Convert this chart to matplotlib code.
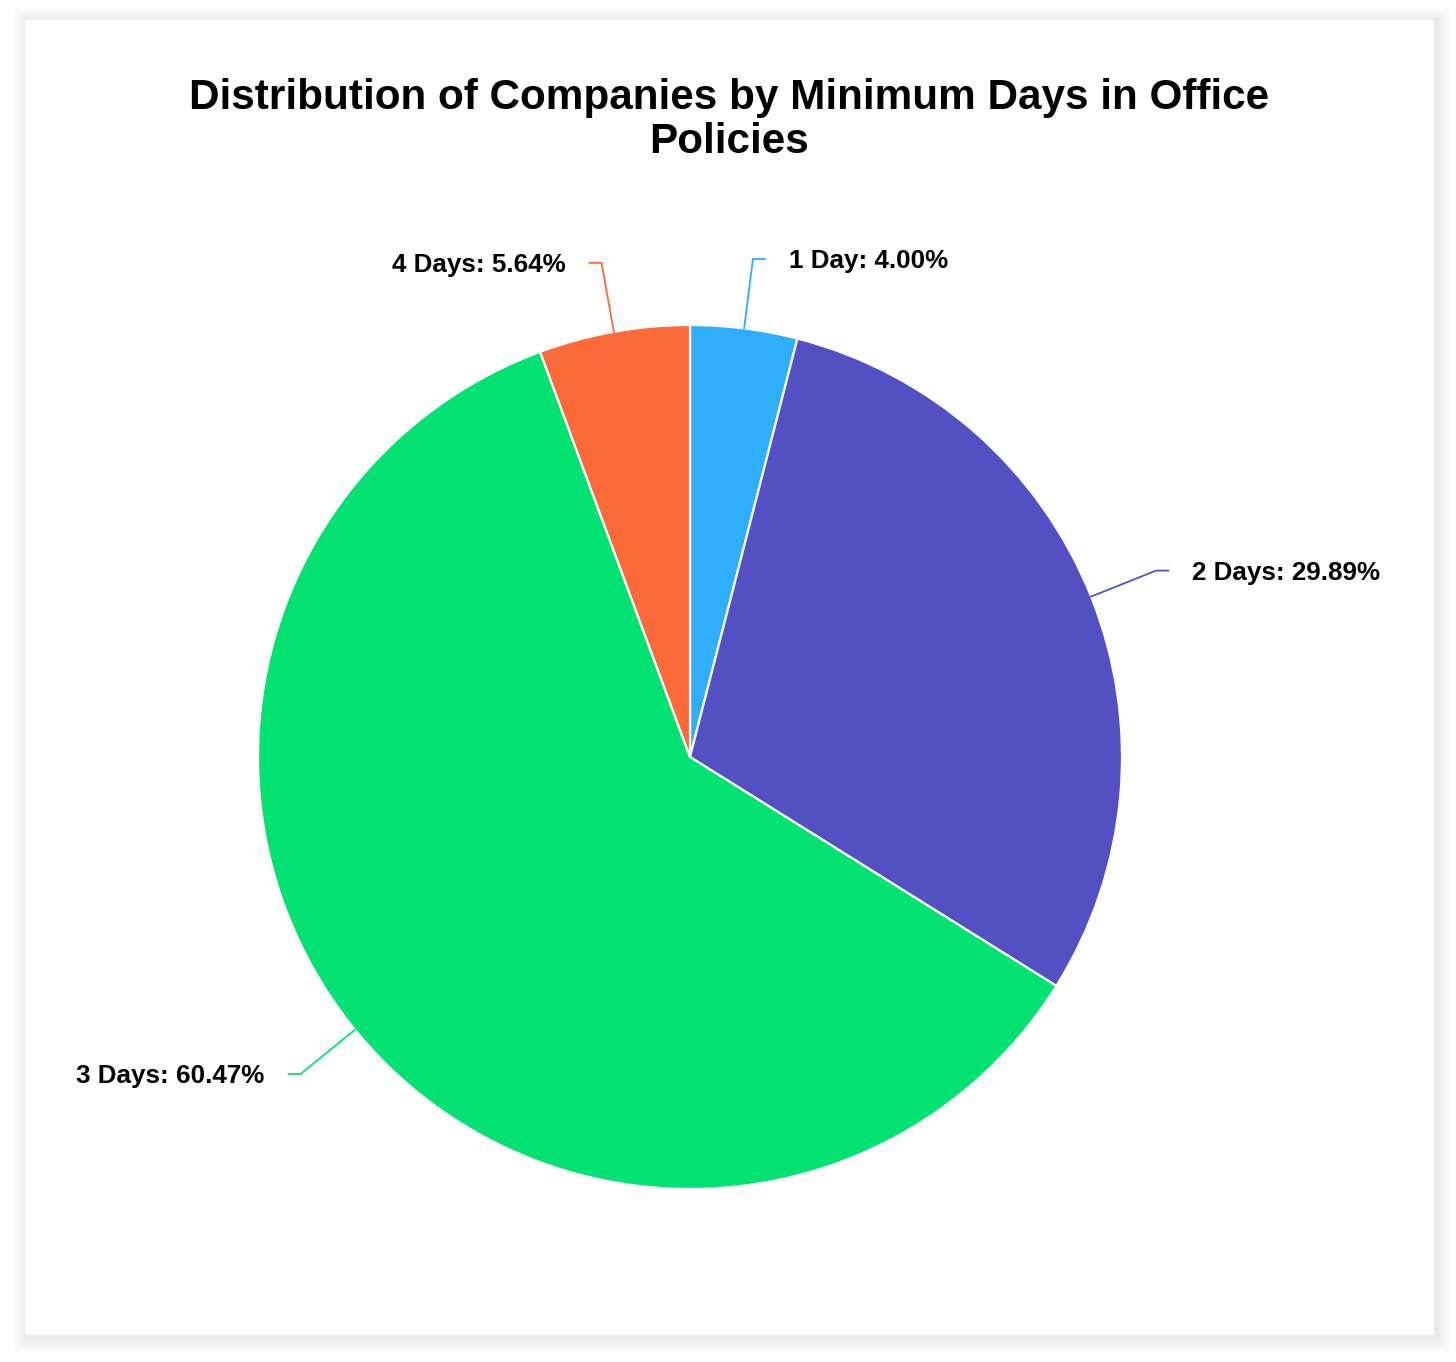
import numpy as np
import matplotlib.pyplot as plt
from matplotlib.patches import Rectangle

plt.rcParams['font.family'] = ['Liberation Sans', 'DejaVu Sans']

labels = ['1 Day', '2 Days', '3 Days', '4 Days']
shares = [4.00, 29.89, 60.47, 5.64]
colors = ['#2EAEFB', '#5350C4', '#02E272', '#FB6A38']
title = 'Distribution of Companies by Minimum Days in Office\nPolicies'

W, H = 1456, 1362
fig = plt.figure(figsize=(W / 100, H / 100), dpi=100)
ax = fig.add_axes([0, 0, 1, 1])

# card with soft shadow
for g in range(14, 0, -2):
    ax.add_patch(Rectangle((24 - g + 3, 27 - g - 3), 1410 + 2 * g, 1316 + 2 * g,
                           facecolor='black', alpha=0.012, lw=0, zorder=0))
ax.add_patch(Rectangle((24, 27), 1410, 1316, facecolor='white',
                       edgecolor='#ececec', lw=1, zorder=1))

cx, cy, r = 690, H - 757, 432
wedges, _ = ax.pie(shares, colors=colors, startangle=90, counterclock=False,
                   center=(cx, cy), radius=r,
                   wedgeprops=dict(edgecolor='white', linewidth=1.6))
for w in wedges:
    w.set_zorder(2)

# leader lines + labels
cum = np.cumsum([0] + shares[:-1])
for lab, val, c0, col in zip(labels, shares, cum, colors):
    ang = np.deg2rad(90 - (c0 + val / 2) * 3.6)
    x0, y0 = cx + r * np.cos(ang), cy + r * np.sin(ang)
    x1, y1 = cx + 502 * np.cos(ang), cy + 502 * np.sin(ang)
    side = 1 if np.cos(ang) >= 0 else -1
    x2 = x1 + side * 12
    ax.plot([x0, x1, x2], [y0, y1, y1], color=col, lw=1.3, zorder=3,
            solid_joinstyle='miter')
    ax.text(x2 + side * 24, y1 - 2, f'{lab}: {val:.2f}%', fontsize=18.7,
            fontweight='bold', ha='left' if side > 0 else 'right',
            va='center', color='black', zorder=4)

ax.text(729, H - 120, title, fontsize=30.4, fontweight='bold', ha='center',
        va='center', linespacing=1.12, zorder=4)

ax.set_xlim(0, W)
ax.set_ylim(0, H)
ax.set_aspect('auto')
ax.axis('off')

fig.savefig('out.png', dpi=100, facecolor='white')
